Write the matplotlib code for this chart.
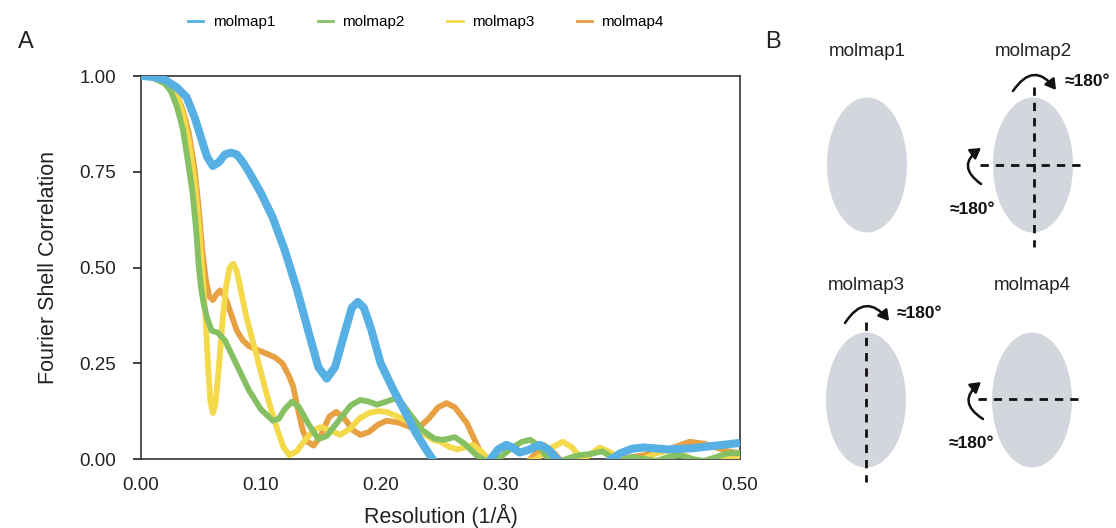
import matplotlib
matplotlib.use('Agg')
import matplotlib.pyplot as plt
from matplotlib.patches import Ellipse, FancyArrowPatch
from matplotlib.lines import Line2D

plt.rcParams['font.family'] = ['Liberation Sans', 'DejaVu Sans']

# ---- data ----
labels = ['molmap1', 'molmap2', 'molmap3', 'molmap4']
colors = ['#56b0e4', '#85c063', '#f4d94b', '#e7a143']

res1 = [0, 0.01, 0.02, 0.03, 0.038, 0.045, 0.05, 0.055, 0.06, 0.065, 0.07, 0.075, 0.08,
        0.085, 0.09, 0.10, 0.11, 0.12, 0.13, 0.14, 0.148, 0.155, 0.162, 0.17, 0.176, 0.181,
        0.186, 0.192, 0.20, 0.21, 0.22, 0.23, 0.24, 0.25, 0.27, 0.285, 0.292, 0.298, 0.305,
        0.31, 0.316, 0.322, 0.333, 0.34, 0.347, 0.36, 0.38, 0.393, 0.40, 0.41, 0.42, 0.44,
        0.46, 0.48, 0.50]
fsc1 = [1.0, 0.998, 0.99, 0.97, 0.945, 0.89, 0.84, 0.79, 0.765, 0.775, 0.795, 0.80, 0.795,
        0.775, 0.75, 0.695, 0.63, 0.545, 0.445, 0.33, 0.24, 0.21, 0.24, 0.33, 0.395, 0.41,
        0.395, 0.34, 0.25, 0.185, 0.125, 0.065, 0.015, -0.03, -0.06, -0.03, 0.0, 0.025, 0.037,
        0.03, 0.017, 0.022, 0.037, 0.025, 0.0, -0.04, -0.03, 0.0, 0.015, 0.027, 0.03, 0.025,
        0.028, 0.035, 0.042]

res2 = [0, 0.01, 0.02, 0.025, 0.03, 0.035, 0.04, 0.043, 0.046, 0.048, 0.05, 0.052, 0.055,
        0.059, 0.064, 0.07, 0.08, 0.09, 0.10, 0.11, 0.115, 0.12, 0.126, 0.132, 0.14, 0.148,
        0.155, 0.165, 0.175, 0.183, 0.19, 0.197, 0.205, 0.212, 0.218, 0.225, 0.235, 0.245,
        0.252, 0.262, 0.27, 0.28, 0.29, 0.30, 0.31, 0.318, 0.325, 0.332, 0.34, 0.35, 0.36,
        0.366, 0.375, 0.385, 0.39, 0.40, 0.41, 0.42, 0.43, 0.44, 0.45, 0.46, 0.47, 0.48,
        0.49, 0.50]
fsc2 = [1.0, 0.995, 0.98, 0.96, 0.92, 0.86, 0.76, 0.695, 0.6, 0.51, 0.45, 0.41, 0.37,
        0.335, 0.33, 0.31, 0.245, 0.18, 0.13, 0.10, 0.105, 0.13, 0.15, 0.135, 0.09, 0.052,
        0.06, 0.10, 0.14, 0.154, 0.15, 0.142, 0.15, 0.158, 0.145, 0.115, 0.075, 0.053,
        0.05, 0.057, 0.04, 0.01, -0.01, 0.005, 0.03, 0.045, 0.05, 0.035, 0.0, -0.005, 0.005,
        0.01, 0.013, 0.02, 0.01, -0.005, 0.005, 0.0, -0.005, 0.005, 0.01, 0.0, -0.005, 0.005,
        0.015, 0.015]

res3 = [0, 0.01, 0.02, 0.03, 0.035, 0.04, 0.045, 0.048, 0.051, 0.054, 0.056, 0.058, 0.06,
        0.062, 0.065, 0.068, 0.071, 0.074, 0.077, 0.08, 0.084, 0.088, 0.094, 0.099, 0.104,
        0.108, 0.114, 0.119, 0.124, 0.13, 0.137, 0.144, 0.15, 0.158, 0.166, 0.175, 0.182,
        0.19, 0.198, 0.205, 0.215, 0.225, 0.235, 0.244, 0.25, 0.257, 0.264, 0.27, 0.277,
        0.284, 0.29, 0.30, 0.31, 0.32, 0.33, 0.34, 0.352, 0.36, 0.366, 0.372, 0.383, 0.39,
        0.40, 0.41, 0.42, 0.43, 0.44, 0.45, 0.46, 0.47, 0.48, 0.49, 0.50]
fsc3 = [1.0, 0.997, 0.985, 0.95, 0.9, 0.83, 0.72, 0.62, 0.5, 0.36, 0.24, 0.15, 0.12,
        0.14, 0.24, 0.36, 0.45, 0.5, 0.51, 0.49, 0.43, 0.37, 0.30, 0.24, 0.18,
        0.135, 0.075, 0.03, 0.01, 0.02, 0.05, 0.075, 0.083, 0.075, 0.063, 0.08, 0.105,
        0.12, 0.125, 0.123, 0.11, 0.094, 0.068, 0.05, 0.045, 0.032, 0.025, 0.03, 0.037,
        0.02, 0.0, -0.02, -0.02, -0.01, 0.0, 0.025, 0.045, 0.03, 0.005, 0.005, 0.03, 0.02,
        0.002, -0.005, 0.0, 0.015, 0.022, 0.015, 0.0, -0.01, -0.005, 0.0, 0.0]

res4 = [0, 0.01, 0.02, 0.03, 0.035, 0.04, 0.045, 0.048, 0.051, 0.054, 0.057, 0.06, 0.063,
        0.066, 0.07, 0.075, 0.08, 0.085, 0.09, 0.097, 0.105, 0.112, 0.118, 0.123, 0.127,
        0.131, 0.135, 0.139, 0.144, 0.15, 0.157, 0.163, 0.17, 0.177, 0.183, 0.19, 0.198,
        0.205, 0.215, 0.225, 0.233, 0.24, 0.248, 0.255, 0.262, 0.272, 0.28, 0.286, 0.30,
        0.315, 0.325, 0.336, 0.345, 0.352, 0.37, 0.39, 0.40, 0.42, 0.44, 0.458, 0.47, 0.48,
        0.49, 0.50]
fsc4 = [1.0, 0.997, 0.985, 0.95, 0.91, 0.85, 0.75, 0.66, 0.55, 0.47, 0.425, 0.415, 0.43,
        0.44, 0.425, 0.38, 0.335, 0.31, 0.295, 0.285, 0.275, 0.265, 0.25, 0.22, 0.19,
        0.13, 0.075, 0.045, 0.035, 0.06, 0.11, 0.123, 0.105, 0.075, 0.063, 0.07, 0.09,
        0.1, 0.095, 0.083, 0.085, 0.105, 0.135, 0.146, 0.135, 0.094, 0.04, 0.0, -0.04,
        -0.03, 0.0, 0.037, 0.015, -0.01, -0.04, -0.02, 0.0, 0.01, 0.025, 0.045, 0.04, 0.03,
        0.02, 0.015]

series = [(res1, fsc1), (res2, fsc2), (res3, fsc3), (res4, fsc4)]
widths = [5.8, 4.2, 4.2, 4.2]
zorders = [5, 4, 3, 2]

xticks = [0.0, 0.1, 0.2, 0.3, 0.4, 0.5]
yticks = [0.0, 0.25, 0.5, 0.75, 1.0]

fig = plt.figure(figsize=(11.16, 5.28), dpi=100)

# ---- panel A ----
ax = fig.add_axes([141 / 1116, 69 / 528, 599 / 1116, 383 / 528])
for (x, y), c, w, z in zip(series, colors, widths, zorders):
    ax.plot(x, y, color=c, lw=w, zorder=z, solid_joinstyle='round', solid_capstyle='butt')
ax.set_xlim(0, 0.5)
ax.set_ylim(0, 1.0)
ax.set_xticks(xticks)
ax.set_xticklabels(['%.2f' % t for t in xticks])
ax.set_yticks(yticks)
ax.set_yticklabels(['%.2f' % t for t in yticks])
ax.tick_params(axis='x', length=0, pad=13, labelsize=13.5, colors='#222222')
ax.tick_params(axis='y', length=6, width=1.2, pad=12, labelsize=13.5, colors='#222222')
for s in ax.spines.values():
    s.set_color('#333333')
    s.set_linewidth(1.2)
    s.set_zorder(1)
ax.set_xlabel('Resolution (1/Å)', fontsize=15.5, color='#222222')
ax.set_ylabel('Fourier Shell Correlation', fontsize=15.5, color='#222222')
ax.xaxis.set_label_coords(0.5, -0.118)
ax.yaxis.set_label_coords(-0.137, 0.5)

handles = [Line2D([], [], color=c, lw=2) for c in colors]
fig.legend(handles, labels, loc='center', bbox_to_anchor=(426 / 1116, 1 - 22 / 528),
           ncol=4, frameon=False, fontsize=11, handlelength=1.0, handletextpad=0.6,
           columnspacing=2.8)

fig.text(18 / 1116, 1 - 42 / 528, 'A', fontsize=17, va='center', ha='left', color='#222222')
fig.text(765 / 1116, 1 - 42 / 528, 'B', fontsize=17, va='center', ha='left', color='#222222')

# ---- panel B (pixel coordinates) ----
bx = fig.add_axes([0, 0, 1, 1])
bx.set_xlim(0, 1116)
bx.set_ylim(528, 0)
bx.axis('off')
bx.patch.set_alpha(0)

grey = '#d3d6dd'
centers = [(867, 165), (1033, 165), (866, 400), (1032, 400)]
for (cx, cy), name in zip(centers, labels):
    bx.add_patch(Ellipse((cx, cy), 80, 135, color=grey, lw=0))
    bx.text(cx, cy - 114, name, fontsize=13.5, ha='center', va='center', color='#222222')

dash = dict(color='#111111', lw=2, dashes=(3, 2.5))
bx.plot([1034, 1034], [87, 247], **dash)
bx.plot([980, 1087], [165, 165], **dash)
bx.plot([866, 866], [322, 482], **dash)
bx.plot([978, 1085], [399, 399], **dash)


def rot_arrow(p0, p1, rad):
    bx.add_patch(FancyArrowPatch(p0, p1, connectionstyle='arc3,rad=%s' % rad,
                                 arrowstyle='-|>,head_length=0.5,head_width=0.3',
                                 color='#111111', lw=1.8, mutation_scale=12,
                                 shrinkA=0, shrinkB=0))


rot_arrow((1013, 91), (1056, 90), -0.7)
rot_arrow((981, 184), (981, 148), -0.7)
rot_arrow((845, 323), (889, 321), -0.7)
rot_arrow((983, 419), (981, 382), -0.7)

bold = dict(fontsize=12.5, fontweight='bold', va='center', color='#111111')
bx.text(1065, 82, '≈180°', ha='left', **bold)
bx.text(972, 210, '≈180°', ha='center', **bold)
bx.text(897, 313, '≈180°', ha='left', **bold)
bx.text(971, 443, '≈180°', ha='center', **bold)

fig.savefig('out.png', dpi=100)
